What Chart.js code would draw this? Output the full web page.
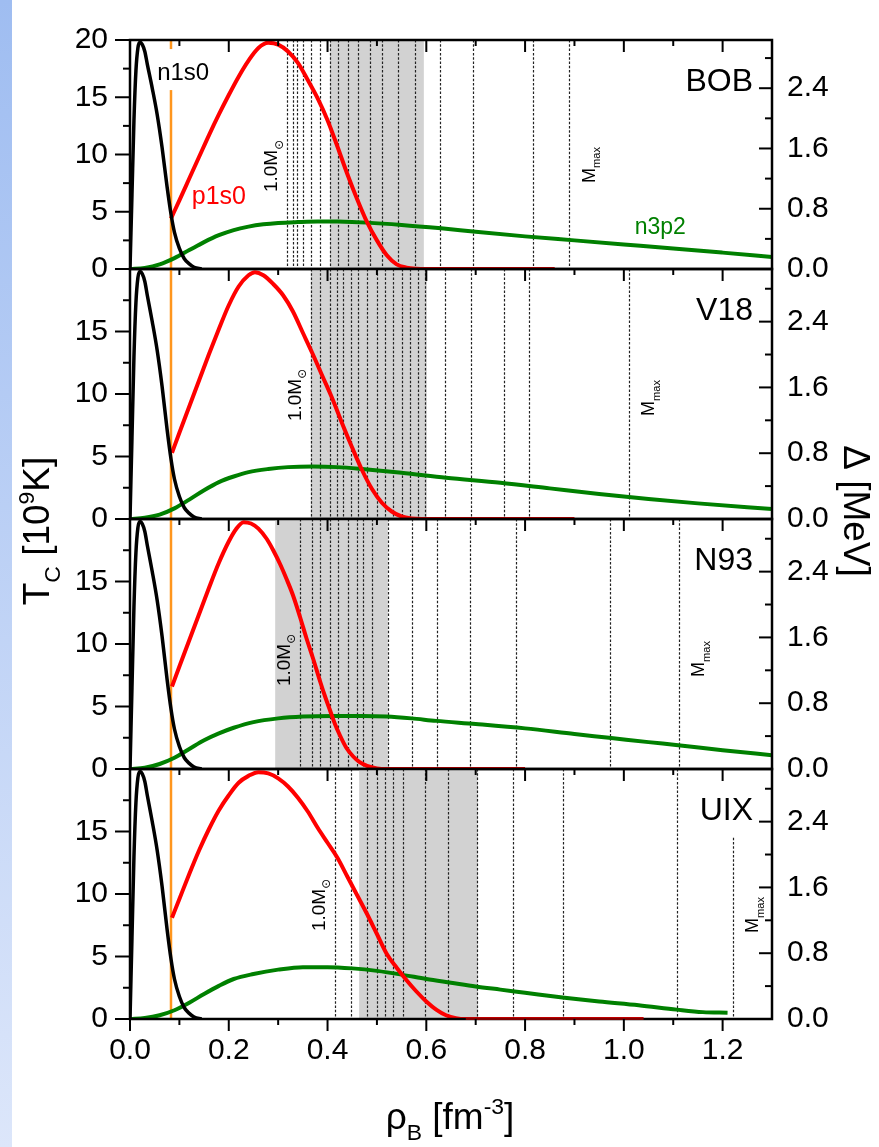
<!DOCTYPE html>
<html>
<head>
<meta charset="utf-8">
<script src="https://cdn.jsdelivr.net/npm/chart.js@4.4.0/dist/chart.umd.min.js"></script>
<style>
  body { margin: 0; background: #fff; }
  #wrap { position: relative; width: 879px; height: 1147px; overflow: hidden; background: #fff; }
  #strip { position: absolute; left: 0; top: 0; width: 12px; height: 1147px; background: linear-gradient(#9fbdf1, #dce6fa); }
  canvas { position: absolute; left: 0; top: 0; }
</style>
</head>
<body>
<div id="wrap">
  <div id="strip"></div>
  <canvas id="c0" width="879" height="1147"></canvas>
  <canvas id="c1" width="879" height="1147"></canvas>
  <canvas id="c2" width="879" height="1147"></canvas>
  <canvas id="c3" width="879" height="1147"></canvas>
</div>
<script>
// tick labels
const rhoTicks = [0, 0.2, 0.4, 0.6, 0.8, 1.0, 1.2];
const tcTicks = [0, 5, 10, 15, 20];
const gapTicks = [0, 0.8, 1.6, 2.4];
const panelNames = ["BOB", "V18", "N93", "UIX"];

// crust-core edge (orange line), fm^-3
const crustEdge = 0.083;

// n1s0 gap, same in every panel
const n1s0Rho = [0, 0.004, 0.008, 0.012, 0.016, 0.02, 0.025, 0.03, 0.035, 0.045, 0.055, 0.065, 0.075, 0.083, 0.09, 0.1, 0.11, 0.12, 0.13, 0.145];
const n1s0Tc = [0, 6.5, 13, 17.3, 19.3, 19.8, 19.6, 19, 17.9, 15.8, 13.5, 10.6, 7.2, 4.8, 3.2, 1.8, 0.9, 0.45, 0.15, 0];

// BOB
const bobP1s0Rho = [0.083, 0.1, 0.12, 0.14, 0.16, 0.18, 0.2, 0.22, 0.24, 0.26, 0.28, 0.3, 0.32, 0.34, 0.36, 0.38, 0.4, 0.42, 0.44, 0.46, 0.48, 0.5, 0.52, 0.54, 0.56, 0.58, 0.6, 0.86];
const bobP1s0Tc = [4.4, 6.0, 7.9, 9.8, 11.7, 13.5, 15.2, 16.8, 18.2, 19.3, 19.75, 19.6, 19.0, 18.0, 16.5, 14.9, 13.0, 10.7, 8.3, 6.1, 4.1, 2.5, 1.2, 0.4, 0.12, 0.02, 0, 0];
const bobN3p2Rho = [0, 0.03, 0.06, 0.09, 0.12, 0.15, 0.18, 0.21, 0.24, 0.27, 0.3, 0.34, 0.38, 0.42, 0.48, 0.55, 0.63, 0.7, 0.8, 0.9, 1.0, 1.1, 1.2, 1.3];
const bobN3p2Tc = [0, 0.1, 0.4, 0.95, 1.65, 2.35, 2.95, 3.4, 3.7, 3.9, 4.02, 4.1, 4.15, 4.14, 4.05, 3.85, 3.55, 3.25, 2.85, 2.5, 2.15, 1.8, 1.43, 1.05];
const bobStars = [0.318, 0.330, 0.338, 0.350, 0.366, 0.385, 0.405, 0.421, 0.441, 0.462, 0.486, 0.510, 0.543, 0.577, 0.628, 0.694, 0.816, 0.889];
const bobShade = [0.405, 0.595];

// V18
const v18P1s0Rho = [0.085, 0.1, 0.12, 0.14, 0.16, 0.18, 0.2, 0.22, 0.24, 0.253, 0.27, 0.29, 0.31, 0.33, 0.35, 0.37, 0.39, 0.41, 0.43, 0.45, 0.47, 0.49, 0.51, 0.53, 0.55, 0.57, 0.59, 0.9];
const v18P1s0Tc = [5.3, 6.9, 9.0, 11.1, 13.2, 15.2, 17.1, 18.6, 19.5, 19.75, 19.5, 18.8, 17.9, 16.6, 14.9, 13.2, 11.4, 9.6, 7.6, 5.7, 3.9, 2.4, 1.3, 0.6, 0.2, 0.04, 0, 0];
const v18N3p2Rho = [0, 0.03, 0.06, 0.09, 0.12, 0.15, 0.18, 0.21, 0.24, 0.28, 0.32, 0.37, 0.42, 0.47, 0.55, 0.64, 0.75, 0.85, 0.95, 1.05, 1.15, 1.3];
const v18N3p2Tc = [0, 0.1, 0.35, 0.85, 1.55, 2.3, 2.95, 3.4, 3.75, 4.0, 4.15, 4.2, 4.15, 4.0, 3.7, 3.3, 2.9, 2.45, 2.0, 1.6, 1.25, 0.8];
const v18Stars = [0.366, 0.385, 0.405, 0.419, 0.431, 0.447, 0.462, 0.480, 0.500, 0.516, 0.532, 0.551, 0.567, 0.583, 0.597, 0.638, 0.690, 0.757, 0.808, 1.010];
const v18Shade = [0.366, 0.601];

// N93
const n93P1s0Rho = [0.085, 0.1, 0.12, 0.14, 0.16, 0.18, 0.2, 0.215, 0.23, 0.245, 0.26, 0.277, 0.29, 0.305, 0.317, 0.33, 0.344, 0.357, 0.371, 0.385, 0.395, 0.405, 0.415, 0.425, 0.438, 0.452, 0.465, 0.48, 0.5, 0.52, 0.8];
const n93P1s0Tc = [6.6, 8.2, 10.3, 12.4, 14.5, 16.5, 18.2, 19.2, 19.75, 19.64, 19.23, 18.4, 17.5, 16.3, 15.2, 13.9, 12.2, 10.5, 8.8, 7.0, 5.8, 4.7, 3.6, 2.7, 1.7, 1.0, 0.55, 0.25, 0.05, 0, 0];
const n93N3p2Rho = [0, 0.03, 0.06, 0.09, 0.12, 0.15, 0.18, 0.21, 0.25, 0.3, 0.35, 0.41, 0.47, 0.52, 0.57, 0.62, 0.7, 0.8, 0.9, 0.97, 1.05, 1.11, 1.2, 1.3];
const n93N3p2Tc = [0, 0.1, 0.4, 0.9, 1.6, 2.3, 2.85, 3.3, 3.75, 4.05, 4.2, 4.25, 4.25, 4.2, 4.05, 3.85, 3.6, 3.25, 2.8, 2.5, 2.15, 1.9, 1.5, 1.1];
const n93Stars = [0.344, 0.368, 0.385, 0.405, 0.421, 0.441, 0.460, 0.472, 0.490, 0.522, 0.571, 0.621, 0.688, 0.781, 0.972, 1.111];
const n93Shade = [0.294, 0.522];

// UIX
const uixP1s0Rho = [0.085, 0.1, 0.12, 0.14, 0.16, 0.18, 0.2, 0.22, 0.24, 0.26, 0.28, 0.3, 0.32, 0.34, 0.36, 0.38, 0.4, 0.42, 0.44, 0.46, 0.48, 0.5, 0.52, 0.54, 0.56, 0.58, 0.6, 0.62, 0.64, 0.66, 0.68, 1.04];
const uixP1s0Tc = [8.1, 9.6, 11.6, 13.5, 15.2, 16.7, 17.9, 18.9, 19.45, 19.75, 19.65, 19.25, 18.6, 17.7, 16.6, 15.3, 14.1, 12.9, 11.4, 9.9, 8.4, 6.8, 5.2, 4.1, 3.1, 2.2, 1.4, 0.75, 0.3, 0.07, 0, 0];
const uixN3p2Rho = [0, 0.03, 0.06, 0.09, 0.12, 0.15, 0.18, 0.21, 0.25, 0.3, 0.35, 0.4, 0.45, 0.5, 0.55, 0.6, 0.65, 0.7, 0.75, 0.8, 0.88, 0.95, 1.03, 1.107, 1.16, 1.21];
const uixN3p2Tc = [0, 0.08, 0.3, 0.7, 1.3, 2.0, 2.65, 3.2, 3.6, 3.95, 4.15, 4.15, 4.05, 3.85, 3.55, 3.2, 2.9, 2.6, 2.35, 2.1, 1.7, 1.4, 1.1, 0.75, 0.55, 0.5];
const uixStars = [0.415, 0.447, 0.480, 0.500, 0.516, 0.532, 0.553, 0.597, 0.644, 0.702, 0.775, 0.877, 1.107, 1.221];
const uixShade = [0.464, 0.704];

// top of the Mmax line (Tc units) per panel
const mmaxTop = [20, 20, 20, 14.5];

const FONT = '"Liberation Sans", Arial, "DejaVu Sans", sans-serif';
Chart.defaults.font.family = FONT;
Chart.defaults.color = "#000";

const toPts = (xs, ys) => xs.map((v, k) => ({ x: v, y: ys[k] }));

const panels = [
  { p1s0: toPts(bobP1s0Rho, bobP1s0Tc), n3p2: toPts(bobN3p2Rho, bobN3p2Tc), stars: bobStars, shade: bobShade },
  { p1s0: toPts(v18P1s0Rho, v18P1s0Tc), n3p2: toPts(v18N3p2Rho, v18N3p2Tc), stars: v18Stars, shade: v18Shade },
  { p1s0: toPts(n93P1s0Rho, n93P1s0Tc), n3p2: toPts(n93N3p2Rho, n93N3p2Tc), stars: n93Stars, shade: n93Shade },
  { p1s0: toPts(uixP1s0Rho, uixP1s0Tc), n3p2: toPts(uixN3p2Rho, uixN3p2Tc), stars: uixStars, shade: uixShade },
];

// layout
const H = 1147, W = 879;
const plotTop = 19, panelH = 250, plotLeft = 130, plotRight = 772;
const labelDy1 = [126, 126, 141, 136];
const labelDy2 = [125, 129, 140, 146];

// text with sub/superscripts, centred on (x, y)
function richText(ctx, parts, x, y, angle, size, color) {
  ctx.save();
  ctx.translate(x, y);
  ctx.rotate(angle);
  ctx.fillStyle = color;
  ctx.textBaseline = "alphabetic";
  ctx.textAlign = "left";
  const fs = (p) => (p.s ? size * 0.62 : size);
  let w = 0;
  parts.forEach((p) => {
    ctx.font = `${fs(p)}px ${FONT}`;
    w += ctx.measureText(p.t).width;
  });
  let cx = -w / 2;
  parts.forEach((p) => {
    ctx.font = `${fs(p)}px ${FONT}`;
    const dy = p.s === -1 ? size * 0.3 : p.s === 1 ? -size * 0.42 : 0;
    ctx.fillText(p.t, cx, dy + size * 0.36);
    cx += ctx.measureText(p.t).width;
  });
  ctx.restore();
}

function minorTicks(ticks, max) {
  const step = ticks[1] - ticks[0];
  const out = [];
  for (let v = ticks[0] + step / 2; v < max - 1e-9; v += step) out.push(v);
  return out;
}

function makePlugin(panel, i) {
  return {
    id: "panel" + i,
    beforeDatasetsDraw(chart) {
      const { ctx, chartArea: a, scales: { x, y } } = chart;
      ctx.save();
      ctx.fillStyle = "#d2d2d2";
      const s0 = x.getPixelForValue(panel.shade[0]);
      const s1 = x.getPixelForValue(panel.shade[1]);
      ctx.fillRect(s0, a.top, s1 - s0, a.bottom - a.top);
      ctx.strokeStyle = "#222";
      ctx.lineWidth = 1.2;
      ctx.setLineDash([2.5, 1.8]);
      panel.stars.forEach((r, k) => {
        const px = Math.round(x.getPixelForValue(r)) + 0.5;
        const top = k === panel.stars.length - 1 ? y.getPixelForValue(mmaxTop[i]) : a.top;
        ctx.beginPath();
        ctx.moveTo(px, top);
        ctx.lineTo(px, a.bottom);
        ctx.stroke();
      });
      ctx.restore();
    },
    afterDatasetsDraw(chart) {
      const { ctx, chartArea: a, scales: { x, y, y2 } } = chart;
      ctx.save();

      // labels inside the panel
      if (i === 0) {
        ctx.font = `24px ${FONT}`;
        const lx = x.getPixelForValue(0.055), ly = y.getPixelForValue(16.5);
        const tw = ctx.measureText("n1s0").width;
        ctx.fillStyle = "#fff";
        ctx.fillRect(lx - 2, ly - 31, tw + 4, 41);
        ctx.fillStyle = "#000";
        ctx.fillText("n1s0", lx, ly);
        ctx.fillStyle = "#ff0000";
        ctx.font = `25px ${FONT}`;
        ctx.fillText("p1s0", x.getPixelForValue(0.125), y.getPixelForValue(5.7));
        ctx.font = `23px ${FONT}`;
        ctx.fillStyle = "#008000";
        ctx.fillText("n3p2", x.getPixelForValue(1.022), y.getPixelForValue(3.1));
      }
      ctx.fillStyle = "#000";
      ctx.font = `32px ${FONT}`;
      ctx.textAlign = "right";
      ctx.fillText(panelNames[i], a.right - 19, a.top + 51);
      ctx.textAlign = "left";

      const first = x.getPixelForValue(panel.stars[0]);
      const last = x.getPixelForValue(panel.stars[panel.stars.length - 1]);
      richText(ctx, [{ t: "1.0M" }, { t: "\u2299", s: -1 }], first - 17, a.top + labelDy1[i], -Math.PI / 2, 19, "#000");
      richText(ctx, [{ t: "M" }, { t: "max", s: -1 }], last + 19, a.top + labelDy2[i], -Math.PI / 2, 18, "#000");

      // frame and ticks
      ctx.strokeStyle = "#000";
      ctx.lineWidth = 2.5;
      ctx.strokeRect(a.left, a.top, a.right - a.left, a.bottom - a.top);

      // zero tail of p1s0 shows through the bottom axis as dark red
      const zi = panel.p1s0.findIndex((p, k) => k > 0 && p.y === 0);
      if (zi > 0) {
        ctx.strokeStyle = "rgba(150,0,0,0.85)";
        ctx.lineWidth = 2;
        ctx.beginPath();
        ctx.moveTo(x.getPixelForValue(panel.p1s0[zi].x), a.bottom);
        ctx.lineTo(x.getPixelForValue(panel.p1s0[panel.p1s0.length - 1].x), a.bottom);
        ctx.stroke();
      }

      ctx.strokeStyle = "#000";
      ctx.lineWidth = 2;
      const line = (x0, y0, x1, y1) => { ctx.beginPath(); ctx.moveTo(x0, y0); ctx.lineTo(x1, y1); ctx.stroke(); };
      tcTicks.forEach((v) => { const p = y.getPixelForValue(v); line(a.left - 15, p, a.left, p); });
      minorTicks(tcTicks, 20).forEach((v) => { const p = y.getPixelForValue(v); line(a.left - 7, p, a.left, p); });
      gapTicks.forEach((v) => { const p = y2.getPixelForValue(v); line(a.right - 13, p, a.right, p); });
      minorTicks(gapTicks, y2.max).forEach((v) => { const p = y2.getPixelForValue(v); line(a.right - 7, p, a.right, p); });
      rhoTicks.forEach((v) => {
        const p = x.getPixelForValue(v);
        line(p, a.top, p, a.top + 12);
        if (i === 3) line(p, a.bottom, p, a.bottom + 12);
      });
      minorTicks(rhoTicks, 1.3).forEach((v) => {
        const p = x.getPixelForValue(v);
        line(p, a.top, p, a.top + 6);
        if (i === 3) line(p, a.bottom, p, a.bottom + 6);
      });

      // axis titles, drawn once
      if (i === 3) {
        richText(ctx, [{ t: "T" }, { t: "C", s: -1 }, { t: " [10" }, { t: "9", s: 1 }, { t: "K]" }], 36, 531, -Math.PI / 2, 37, "#000");
        richText(ctx, [{ t: "\u0394 [MeV]" }], 857, 511, Math.PI / 2, 37, "#000");
        richText(ctx, [{ t: "\u03c1" }, { t: "B", s: -1 }, { t: " [fm" }, { t: "-3", s: 1 }, { t: "]" }], 450, 1116, 0, 37, "#000");
      }
      ctx.restore();
    },
  };
}

panels.forEach((panel, i) => {
  const top = plotTop + panelH * i;
  const last = i === 3;
  const lineSet = (label, data, color, width, order) => ({
    label, data, borderColor: color, borderWidth: width, pointRadius: 0,
    fill: false, cubicInterpolationMode: "monotone", order,
  });
  new Chart(document.getElementById("c" + i), {
    type: "line",
    data: {
      datasets: [
        lineSet("crust", [{ x: crustEdge, y: 0 }, { x: crustEdge, y: 20 }], "#ff961e", 2.5, 4),
        lineSet("n3p2", panel.n3p2, "#008000", 4, 3),
        lineSet("p1s0", panel.p1s0, "#ff0000", 4, 2),
        lineSet("n1s0", toPts(n1s0Rho, n1s0Tc), "#000", 3.5, 1),
      ],
    },
    options: {
      responsive: false,
      animation: false,
      devicePixelRatio: 1,
      events: [],
      layout: { padding: { top, bottom: last ? 0 : H - (top + panelH), left: 0, right: 0 } },
      plugins: { legend: { display: false }, tooltip: { enabled: false } },
      scales: {
        x: {
          type: "linear", min: 0, max: 1.3, display: last, position: "bottom",
          grid: { display: false, drawTicks: false }, border: { display: false },
          afterBuildTicks: (s) => { s.ticks = rhoTicks.map((v) => ({ value: v })); },
          afterFit: (s) => { if (last) s.height = H - (plotTop + 4 * panelH); },
          ticks: { autoSkip: false, maxRotation: 0, padding: 14, font: { size: 30 }, callback: (v) => v.toFixed(1) },
        },
        y: {
          type: "linear", min: 0, max: 20, position: "left",
          grid: { display: false, drawTicks: false }, border: { display: false },
          afterBuildTicks: (s) => { s.ticks = tcTicks.filter((v) => i === 0 || v < 20).map((v) => ({ value: v })); },
          afterFit: (s) => { s.width = plotLeft; },
          ticks: { autoSkip: false, padding: 22, font: { size: 30 }, callback: (v) => String(v) },
        },
        y2: {
          type: "linear", min: 0, max: 3.04, position: "right",
          grid: { display: false, drawTicks: false }, border: { display: false },
          afterBuildTicks: (s) => { s.ticks = gapTicks.map((v) => ({ value: v })); },
          afterFit: (s) => { s.width = W - plotRight; },
          ticks: { autoSkip: false, padding: 15, font: { size: 30 }, callback: (v) => v.toFixed(1) },
        },
      },
    },
    plugins: [makePlugin(panel, i)],
  });
});
</script>
</body>
</html>
